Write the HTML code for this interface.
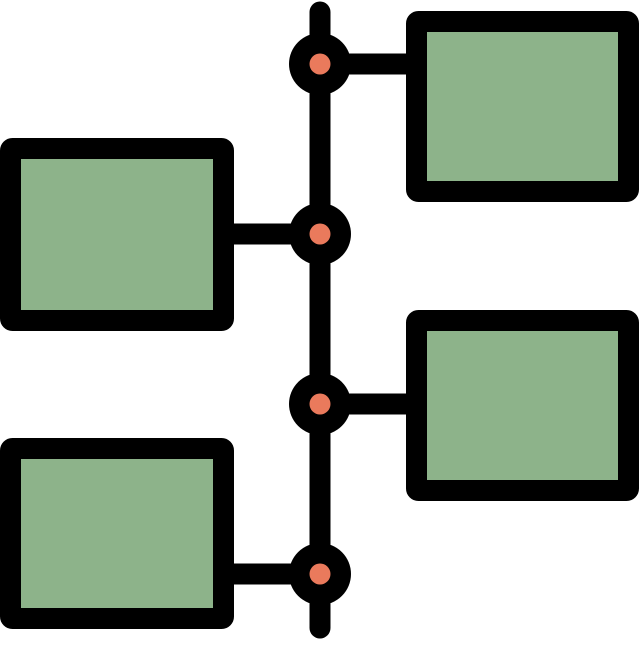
<!DOCTYPE html>
<html><head><style>html,body{margin:0;padding:0;background:#fff}</style></head>
<body>
<svg width="640" height="640" viewBox="0 0 640 640" xmlns="http://www.w3.org/2000/svg">
<g stroke="#000" stroke-width="21" stroke-linecap="round">
<line x1="320" y1="12" x2="320" y2="628"/>
</g>
<g stroke="#000" stroke-width="21">
<line x1="320" y1="64" x2="410" y2="64"/>
<line x1="230" y1="234" x2="320" y2="234"/>
<line x1="320" y1="404" x2="410" y2="404"/>
<line x1="230" y1="574" x2="320" y2="574"/>
</g>
<g fill="#8db38a" stroke="#000" stroke-width="21" stroke-linejoin="round">
<rect x="416.5" y="21.5" width="212" height="170" rx="2"/>
<rect x="10.5" y="148.5" width="213" height="172" rx="2"/>
<rect x="416.5" y="320.5" width="212" height="170" rx="2"/>
<rect x="10.5" y="448.5" width="213" height="170" rx="2"/>
</g>
<g fill="#000">
<circle cx="320" cy="64" r="31"/>
<circle cx="320" cy="234" r="31"/>
<circle cx="320" cy="404" r="31"/>
<circle cx="320" cy="574" r="31"/>
</g>
<g fill="#ea7a5c">
<circle cx="320" cy="64" r="10.5"/>
<circle cx="320" cy="234" r="10.5"/>
<circle cx="320" cy="404" r="10.5"/>
<circle cx="320" cy="574" r="10.5"/>
</g>
</svg>
</body></html>
